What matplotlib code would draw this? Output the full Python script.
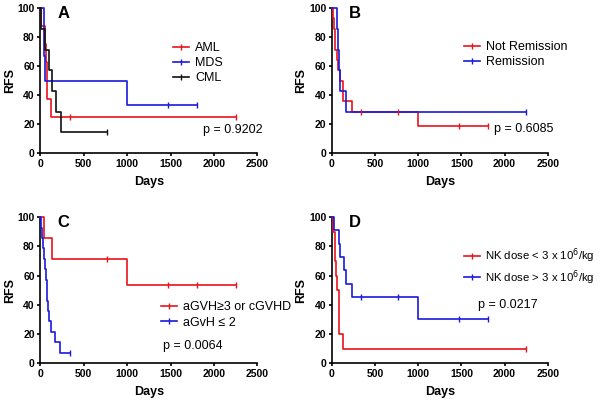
import matplotlib.pyplot as plt
from matplotlib.lines import Line2D

plt.rcParams['font.family'] = ['Liberation Sans', 'DejaVu Sans']

# Panel A: disease
aml_t = [0, 10, 50, 70, 80, 130, 2250]
aml_s = [100, 87.5, 75, 62.5, 37.5, 25, 25]
aml_ct = [340, 2250]
aml_cs = [25, 25]
mds_t = [0, 40, 60, 1000, 1810]
mds_s = [100, 66.7, 50, 33.3, 33.3]
mds_ct = [1470, 1810]
mds_cs = [33.3, 33.3]
cml_t = [0, 10, 60, 105, 140, 178, 240, 770]
cml_s = [100, 85.7, 71.4, 57.1, 42.9, 28.6, 14.3, 14.3]
cml_ct = [770]
cml_cs = [14.3]

# Panel B: remission status
nrem_t = [0, 10, 30, 40, 55, 75, 90, 130, 230, 1000, 1810]
nrem_s = [100, 92.9, 85.7, 71.4, 64.3, 57.1, 50, 35.7, 28.6, 19.0, 19.0]
nrem_ct = [340, 770, 1470, 1810]
nrem_cs = [28.6, 28.6, 19.0, 19.0]
rem_t = [0, 55, 70, 85, 100, 170, 2250]
rem_s = [100, 85.7, 71.4, 57.1, 42.9, 28.6, 28.6]
rem_ct = [2250]
rem_cs = [28.6]

# Panel C: GVHD
gvh3_t = [0, 40, 140, 1000, 2250]
gvh3_s = [100, 85.7, 71.4, 53.6, 53.6]
gvh3_ct = [770, 1470, 1810, 2250]
gvh3_cs = [71.4, 53.6, 53.6, 53.6]
gvh2_t = [0, 10, 20, 35, 45, 55, 65, 75, 85, 100, 130, 175, 230, 340]
gvh2_s = [100, 92.9, 85.7, 78.6, 71.4, 64.3, 57.1, 42.9, 35.7, 28.6, 21.4, 14.3, 7.1, 7.1]
gvh2_ct = [340]
gvh2_cs = [7.1]

# Panel D: NK dose
nklo_t = [0, 10, 35, 50, 60, 85, 130, 2250]
nklo_s = [100, 90, 70, 60, 50, 20, 10, 10]
nklo_ct = [2250]
nklo_cs = [10]
nkhi_t = [0, 30, 80, 100, 140, 170, 230, 1000, 1810]
nkhi_s = [100, 90.9, 81.8, 72.7, 63.6, 54.5, 45.5, 30.3, 30.3]
nkhi_ct = [340, 770, 1470, 1810]
nkhi_cs = [45.5, 45.5, 30.3, 30.3]

RED = '#e8141b'
BLUE = '#1a1adc'
BLACK = '#111111'

panels = [
    ('A', [0.067, 0.620, 0.362, 0.360], 'p = 0.9202', (0.75, 0.16), (0.61, 0.62), 9,
     [('AML', RED, aml_t, aml_s, aml_ct, aml_cs),
      ('MDS', BLUE, mds_t, mds_s, mds_ct, mds_cs),
      ('CML', BLACK, cml_t, cml_s, cml_ct, cml_cs)]),
    ('B', [0.553, 0.620, 0.360, 0.360], 'p = 0.6085', (0.75, 0.165), (0.61, 0.68), 9,
     [('Not Remission', RED, nrem_t, nrem_s, nrem_ct, nrem_cs),
      ('Remission', BLUE, rem_t, rem_s, rem_ct, rem_cs)]),
    ('C', [0.067, 0.099, 0.362, 0.362], 'p = 0.0064', (0.567, 0.12), (0.557, 0.33), 9,
     [('aGVH≥3 or cGVHD', RED, gvh3_t, gvh3_s, gvh3_ct, gvh3_cs),
      ('aGvH ≤ 2', BLUE, gvh2_t, gvh2_s, gvh2_ct, gvh2_cs)]),
    ('D', [0.553, 0.099, 0.360, 0.362], 'p = 0.0217', (0.676, 0.40), (0.61, 0.66), 8.2,
     [('NK dose < 3 x 10$^6$/kg', RED, nklo_t, nklo_s, nklo_ct, nklo_cs),
      ('NK dose > 3 x 10$^6$/kg', BLUE, nkhi_t, nkhi_s, nkhi_ct, nkhi_cs)]),
]

fig = plt.figure(figsize=(6, 4.03), dpi=100)

for letter, pos, ptxt, ppos, lpos, lsize, series in panels:
    ax = fig.add_axes(pos)
    handles = []
    for label, col, t, s, ct, cs in series:
        ax.step(t, s, where='post', color=col, lw=1.2, clip_on=False, zorder=3)
        ax.plot(ct, cs, ls='none', marker='|', ms=4, mew=1.0, color=col, clip_on=False, zorder=4)
        handles.append(Line2D([], [], color=col, lw=1.2, marker='|', ms=4, mew=1.0, label=label))
    ax.legend(handles=handles, loc='center left', bbox_to_anchor=lpos, frameon=False,
              fontsize=lsize, numpoints=1, handlelength=16 / (lsize * 100 / 72),
              handletextpad=0.5, labelspacing=0.25, borderpad=0, borderaxespad=0)
    ax.set_xlim(0, 2500)
    ax.set_ylim(0, 100)
    ax.set_xticks([0, 500, 1000, 1500, 2000, 2500])
    ax.set_yticks([0, 20, 40, 60, 80, 100])
    for sp in ['top', 'right']:
        ax.spines[sp].set_visible(False)
    for sp in ['left', 'bottom']:
        ax.spines[sp].set_linewidth(1.2)
    ax.tick_params(direction='out', length=2.5, width=1.2, labelsize=7.5, pad=1.5)
    for lab in ax.get_xticklabels() + ax.get_yticklabels():
        lab.set_fontweight('bold')
    ax.set_xlabel('Days', fontsize=9, fontweight='bold', labelpad=5)
    ax.set_ylabel('RFS', fontsize=9, fontweight='bold', labelpad=1)
    ax.text(0.078, 0.965, letter, transform=ax.transAxes, fontsize=12,
            fontweight='bold', ha='left', va='center')
    ax.text(ppos[0], ppos[1], ptxt, transform=ax.transAxes, fontsize=9,
            ha='left', va='center')

fig.savefig('out.png', dpi=100)
